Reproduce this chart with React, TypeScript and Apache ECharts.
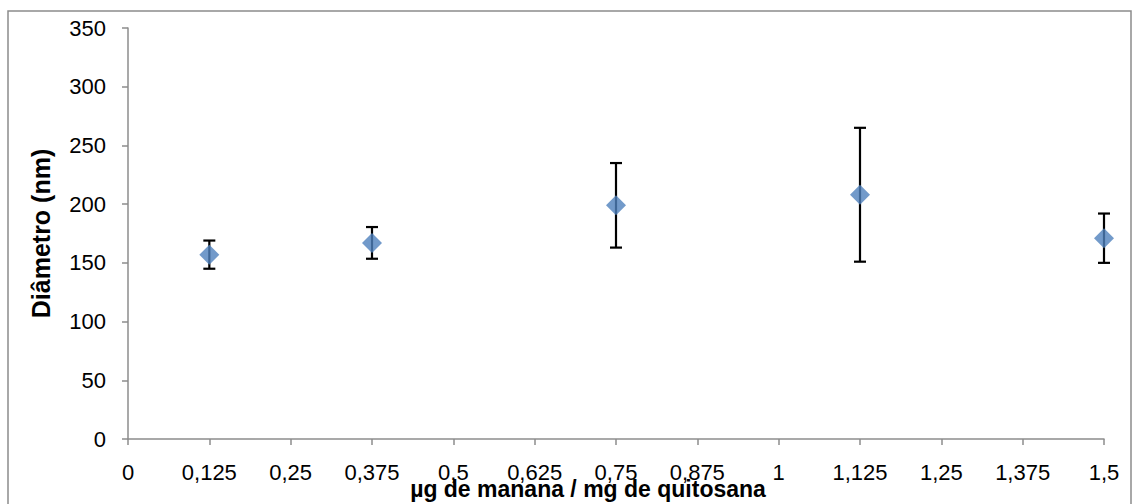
import React, { useEffect, useRef } from "react";
import * as echarts from "echarts";

// Nanoparticle diameter versus mannan/chitosan ratio, with standard deviations
const ratios = [0.125, 0.375, 0.75, 1.125, 1.5];
const diameters = [157, 167, 199, 208, 171];
const deviations = [12, 13.5, 36, 57, 21];

const yTicks = { min: 0, max: 350, interval: 50 };
const xTicks = { min: 0, max: 1.5, interval: 0.125 };

const xTitle = "µg de manana / mg de quitosana";
const yTitle = "Diâmetro (nm)";

const FONT = "'Liberation Sans', Arial, sans-serif";

export default function App() {
  const ref = useRef<HTMLDivElement>(null);

  useEffect(() => {
    if (!ref.current) return;
    const chart = echarts.init(ref.current, undefined, { renderer: "svg" });

    const points = ratios.map((x, i) => [x, diameters[i]]);
    const bars = ratios.map((x, i) => [x, diameters[i] - deviations[i], diameters[i] + deviations[i]]);
    const comma = (v: number) => String(v).replace(".", ",");

    chart.setOption({
      animation: false,
      grid: { left: 128, right: 29, top: 28, bottom: 65, containLabel: false },
      xAxis: {
        type: "value",
        min: xTicks.min,
        max: xTicks.max,
        interval: xTicks.interval,
        splitLine: { show: false },
        axisLine: { show: true, lineStyle: { color: "#8c8c8c", width: 1.5 } },
        axisTick: { show: true, length: 6, lineStyle: { color: "#8c8c8c", width: 1.5 } },
        axisLabel: { color: "#000", fontSize: 22, fontFamily: FONT, margin: 22, formatter: comma },
      },
      yAxis: {
        type: "value",
        min: yTicks.min,
        max: yTicks.max,
        interval: yTicks.interval,
        splitLine: { show: false },
        axisLine: { show: true, lineStyle: { color: "#8c8c8c", width: 1.5 } },
        axisTick: { show: true, length: 6, lineStyle: { color: "#8c8c8c", width: 1.5 } },
        axisLabel: { color: "#000", fontSize: 22, fontFamily: FONT, margin: 22, formatter: comma },
        name: yTitle,
        nameLocation: "middle",
        nameGap: 75,
        nameRotate: 90,
        nameTextStyle: { color: "#000", fontSize: 25, fontWeight: "bold", fontFamily: FONT },
      },
      graphic: [
        {
          type: "rect",
          shape: { x: 8, y: 11, width: 1123, height: 520 },
          style: { fill: "none", stroke: "#8c8c8c", lineWidth: 1.5 },
          silent: true,
        },
        {
          type: "text",
          x: 588,
          y: 489,
          z: 10,
          style: {
            text: xTitle,
            fill: "#000",
            font: `bold 23px ${FONT}`,
            align: "center",
            verticalAlign: "middle",
          },
        },
      ],
      series: [
        {
          type: "custom",
          data: bars,
          z: 1,
          renderItem: (params: any, api: any) => {
            const x = api.value(0);
            const lo = api.coord([x, api.value(1)]);
            const hi = api.coord([x, api.value(2)]);
            const half = 6;
            const style = { stroke: "#000", lineWidth: 2.2 };
            return {
              type: "group",
              children: [
                { type: "line", shape: { x1: lo[0], y1: lo[1], x2: hi[0], y2: hi[1] }, style },
                { type: "line", shape: { x1: hi[0] - half, y1: hi[1], x2: hi[0] + half, y2: hi[1] }, style },
                { type: "line", shape: { x1: lo[0] - half, y1: lo[1], x2: lo[0] + half, y2: lo[1] }, style },
              ],
            };
          },
        },
        {
          type: "scatter",
          data: points,
          z: 2,
          symbol: "diamond",
          symbolSize: 20,
          itemStyle: { color: "#4F81BD" },
        },
      ],
    });

    return () => chart.dispose();
  }, []);

  return (
    <div
      ref={ref}
      style={{ position: "absolute", left: 0, top: 0, width: 1133, height: 504, background: "#fff" }}
    />
  );
}
